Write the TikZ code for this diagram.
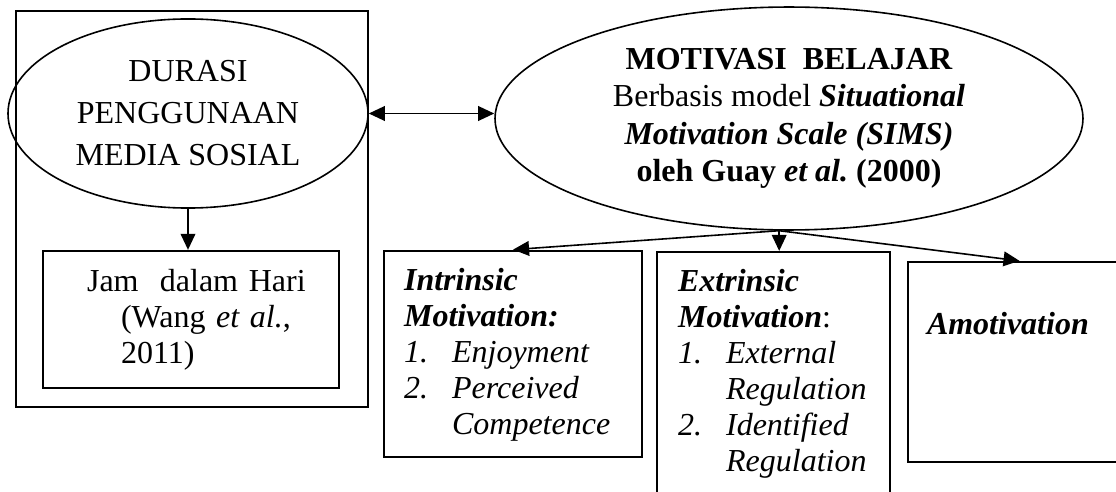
\documentclass[tikz,border=0pt]{standalone}
\usepackage{fontspec}
\setmainfont{Liberation Serif}
\usetikzlibrary{shapes,arrows.meta}
\frenchspacing

\newcommand{\itm}[2]{\mbox{\makebox[18pt][l]{\textit{#1}}\textit{#2}}}
\newcommand{\cnt}[1]{\mbox{\hspace*{18pt}\textit{#1}}}

\begin{document}
\begin{tikzpicture}[x=0.375pt,y=-0.375pt,
    every node/.style={font=\fontsize{12pt}{13.5pt}\selectfont},
    txtbox/.style={draw,line width=0.8pt,rectangle,inner ysep=0pt,align=left,anchor=base west},
    oval/.style={draw,line width=0.6pt,ellipse,inner sep=0pt,align=center},
    conn/.style={line width=0.6pt},
    >={Triangle[length=6pt,width=5.5pt]}]
  \useasboundingbox (0,0) rectangle (1116,492);
  \node[draw,line width=0.8pt,minimum width=132pt,minimum height=148.5pt] (frame) at (192,209) {};
  \node[oval,minimum width=135pt,minimum height=70.9pt,
    font=\fontsize{12pt}{15.75pt}\selectfont] (durasi) at (188,113.5) {
    DURASI\\PENGGUNAAN\\MEDIA SOSIAL};
  \node[txtbox,text width=78pt,inner xsep=16.5pt,text height=15.3pt,text depth=36.1pt] (jam) at (42,291.7) {
    \mbox{Jam\ \ dalam Hari}\\
    \mbox{\hspace*{12.75pt}(Wang \textit{et al.},}\\
    \mbox{\hspace*{12.75pt}2011)}};
  \node[oval,minimum width=220.5pt,minimum height=83.6pt,
    font=\fontsize{12pt}{14pt}\selectfont] (motivasi) at (789,118.5) {
    \textbf{MOTIVASI\ \ BELAJAR}\\
    Berbasis model \textbf{\textit{Situational}}\\
    \textbf{\textit{Motivation Scale (SIMS)}}\\
    \textbf{oleh Guay \textit{et al.} (2000)}};
  \node[txtbox,text width=81.75pt,inner xsep=7.5pt,text height=15pt,text depth=62.25pt] (intr) at (383,290.7) {
    \textbf{\textit{Intrinsic}}\\
    \textbf{\textit{Motivation:}}\\
    \itm{1.}{Enjoyment}\\
    \itm{2.}{Perceived}\\
    \cnt{Competence}};
  \node[txtbox,text width=71.6pt,inner xsep=7.9pt,text height=15pt,text depth=93pt] (extr) at (656,292) {
    \textbf{\textit{Extrinsic}}\\
    \mbox{\textbf{\textit{Motivation}}:}\\
    \itm{1.}{External}\\
    \cnt{Regulation}\\
    \itm{2.}{Identified}\\
    \cnt{Regulation}};
  \node[txtbox,text width=69.4pt,inner xsep=7.1pt,text height=27.4pt,text depth=47.6pt] (amot) at (907,335) {
    \textbf{\textit{Amotivation}}};
  \draw[conn,->] (durasi.south) -- (durasi.south |- jam.north);
  \draw[conn,<->] (durasi.east) -- (durasi.east -| motivasi.west);
  \draw[conn,->] (motivasi.265) -- (intr.north);
  \draw[conn,->] (motivasi.265) -- (motivasi.265 |- extr.north);
  \draw[conn,->] (motivasi.265) -- (amot.north);
\end{tikzpicture}
\end{document}
